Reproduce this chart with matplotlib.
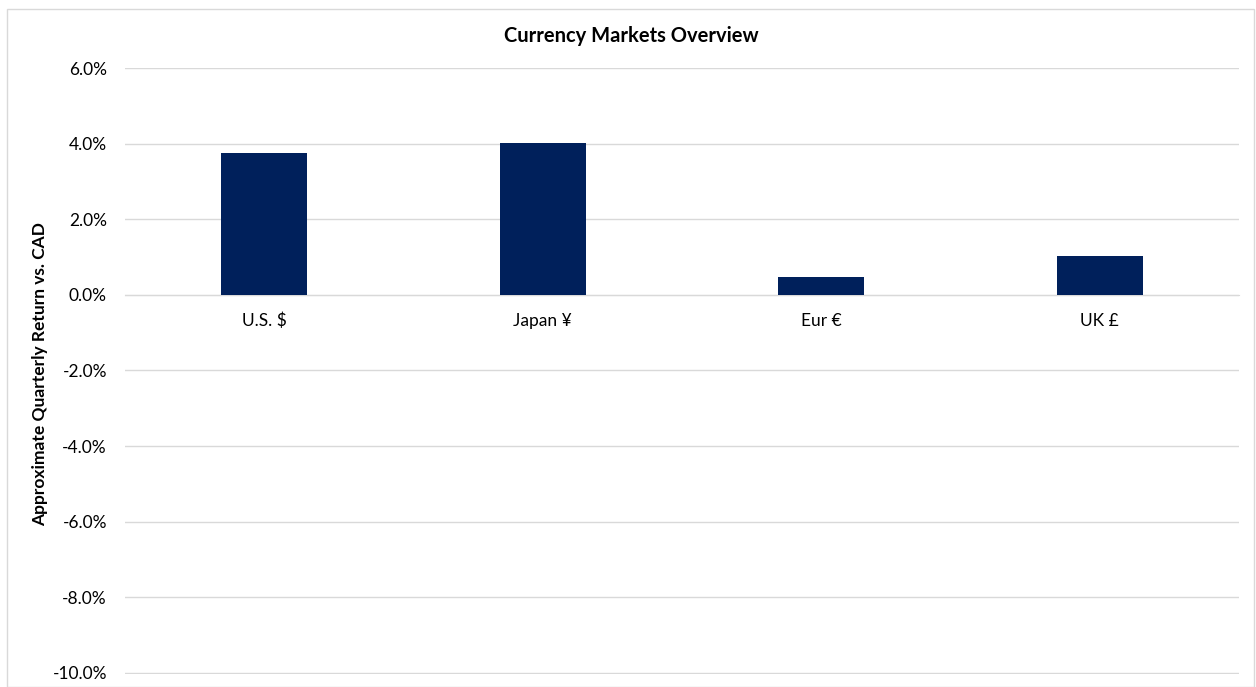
import matplotlib.pyplot as plt
from matplotlib.patches import Rectangle
from matplotlib.ticker import FuncFormatter

plt.rcParams['font.family'] = ['Lato', 'DejaVu Sans']

# quarterly returns vs CAD (percent)
currencies = ["U.S. $", "Japan ¥", "Eur €", "UK £"]
returns = [3.76, 4.01, 0.47, 1.03]
y_ticks = [-10, -8, -6, -4, -2, 0, 2, 4, 6]

BAR_COLOR = "#00205B"
GRID_COLOR = "#D9D9D9"

fig = plt.figure(figsize=(12.56, 6.87), dpi=100)
ax = fig.add_axes([125 / 1256, 1 - 674 / 687, 1114 / 1256, 606 / 687])

x = range(len(currencies))
ax.bar(x, returns, width=0.31, color=BAR_COLOR, zorder=3)

ax.set_xlim(-0.5, len(currencies) - 0.5)
ax.set_ylim(-10.03, 6)
ax.set_yticks(y_ticks)
ax.yaxis.set_major_formatter(FuncFormatter(lambda v, p: f"{v:.1f}%"))
ax.grid(axis="y", color=GRID_COLOR, linewidth=1, zorder=0)

ax.set_xticks(list(x))
ax.set_xticklabels(currencies)
for side in ("top", "right", "left"):
    ax.spines[side].set_visible(False)
ax.spines["bottom"].set_position(("data", 0))
ax.spines["bottom"].set_color(GRID_COLOR)
ax.tick_params(axis="both", length=0, labelsize=12.5, colors="black")
ax.tick_params(axis="x", pad=13)
ax.tick_params(axis="y", pad=13)

fig.text(631 / 1256, 1 - 42 / 687, "Currency Markets Overview", fontsize=14.5,
         fontweight="bold", ha="center", va="baseline")
fig.text(40 / 1256, 1 - 374 / 687, "Approximate Quarterly Return vs. CAD",
         fontsize=12.5, fontweight="bold", rotation=90, ha="center", va="center")

# light border around the whole chart area
fig.patches.append(Rectangle((7 / 1256, 0), 1247 / 1256, 1 - 9 / 687,
                             transform=fig.transFigure, fill=False,
                             edgecolor=GRID_COLOR, linewidth=1))

fig.savefig("out.png", dpi=100)
